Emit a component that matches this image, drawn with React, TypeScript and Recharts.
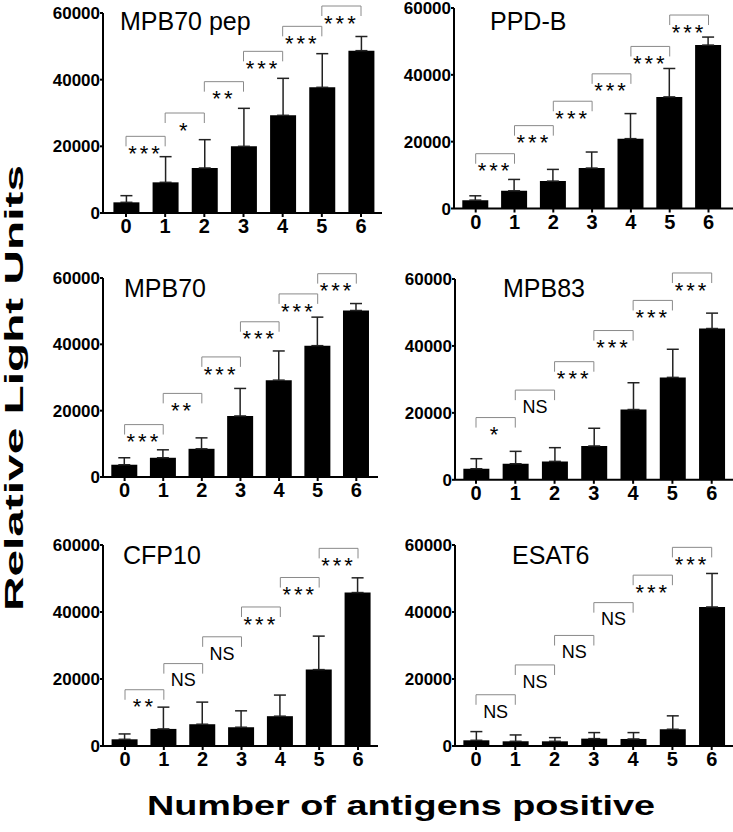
import React from "react";
import { BarChart, Bar, XAxis, YAxis, ErrorBar, ReferenceLine } from "recharts";

// number of antigens positive
const groups = ["0", "1", "2", "3", "4", "5", "6"];
const yTicks = [0, 20000, 40000, 60000];

// mean relative light units and SD (upper error) per group
const mpb70pepMean = [3200, 9200, 13500, 20000, 29300, 37700, 48700];
const mpb70pepSd = [2000, 7700, 8500, 11400, 11100, 10100, 4250];
const mpb70pepBracket = [23000, 30000, 39400, 48500, 56000, 62100];
const mpb70pepSig = ["***", "*", "**", "***", "***", "***"];

const ppdbMean = [2500, 5300, 8200, 12100, 20900, 33400, 48900];
const ppdbSd = [1300, 3400, 3500, 4800, 7500, 8500, 2400];
const ppdbBracket = [16400, 24800, 32100, 40300, 48500, 57900];
const ppdbSig = ["***", "***", "***", "***", "***", "***"];

const mpb70Mean = [3700, 5800, 8500, 18400, 29200, 39600, 50200];
const mpb70Sd = [2100, 2400, 3300, 8300, 8800, 8600, 2100];
const mpb70Bracket = [15800, 25200, 36200, 46800, 55200, 61300];
const mpb70Sig = ["***", "**", "***", "***", "***", "***"];

const mpb83Mean = [3300, 4800, 5500, 10100, 21000, 30600, 45200];
const mpb83Sd = [3000, 3700, 4100, 5300, 8000, 8400, 4600];
const mpb83Bracket = [18600, 26800, 35300, 44600, 53600, 61800];
const mpb83Sig = ["*", "NS", "***", "***", "***", "***"];

const cfp10Mean = [2000, 5100, 6500, 5600, 8900, 22800, 45800];
const cfp10Sd = [1600, 6500, 6600, 4900, 6300, 10000, 4400];
const cfp10Bracket = [16800, 24600, 32600, 41500, 50300, 59000];
const cfp10Sig = ["**", "NS", "NS", "***", "***", "***"];

const esat6Mean = [1700, 1400, 1400, 2200, 2100, 5000, 41500];
const esat6Sd = [2600, 1900, 1100, 1800, 1900, 4000, 10000];
const esat6Bracket = [15300, 24200, 33000, 42800, 51000, 59300];
const esat6Sig = ["NS", "NS", "NS", "NS", "***", "***"];

const FONT = '"Liberation Sans", Arial, sans-serif';
const LEG = 3000; // bracket leg length in data units
const BRACKET = "#8a8a8a";

type Geo = { axisX: number; top: number; base: number; c0: number; c6: number; right: number };
type PanelDef = {
  title: string;
  mean: number[];
  sd: number[];
  bracket: number[];
  sig: string[];
  geo: Geo;
  tx: number;
  ty: number;
};

const panels: PanelDef[] = [
  { title: "MPB70 pep", mean: mpb70pepMean, sd: mpb70pepSd, bracket: mpb70pepBracket, sig: mpb70pepSig,
    geo: { axisX: 103, top: 13, base: 213, c0: 126, c6: 361, right: 382 }, tx: 120, ty: 30 },
  { title: "PPD-B", mean: ppdbMean, sd: ppdbSd, bracket: ppdbBracket, sig: ppdbSig,
    geo: { axisX: 454, top: 7.5, base: 208, c0: 475.7, c6: 708.5, right: 733 }, tx: 490, ty: 30 },
  { title: "MPB70", mean: mpb70Mean, sd: mpb70Sd, bracket: mpb70Bracket, sig: mpb70Sig,
    geo: { axisX: 103, top: 278, base: 477, c0: 124.6, c6: 356.3, right: 378 }, tx: 124, ty: 297 },
  { title: "MPB83", mean: mpb83Mean, sd: mpb83Sd, bracket: mpb83Bracket, sig: mpb83Sig,
    geo: { axisX: 455, top: 278.5, base: 479.3, c0: 476, c6: 711.7, right: 733 }, tx: 503, ty: 297 },
  { title: "CFP10", mean: cfp10Mean, sd: cfp10Sd, bracket: cfp10Bracket, sig: cfp10Sig,
    geo: { axisX: 103, top: 545, base: 746, c0: 125, c6: 358, right: 378 }, tx: 123, ty: 564 },
  { title: "ESAT6", mean: esat6Mean, sd: esat6Sd, bracket: esat6Bracket, sig: esat6Sig,
    geo: { axisX: 455, top: 545, base: 746, c0: 476, c6: 711.7, right: 733 }, tx: 512, ty: 564 },
];

function sigLabel(s: string) {
  const stars = s.includes("*");
  return {
    value: s,
    position: "bottom" as const,
    offset: stars ? 9 : 10,
    fill: "#000",
    fontSize: stars ? 22 : 18,
    letterSpacing: stars ? 3 : 0,
  };
}

function Panel({ p }: { p: PanelDef }) {
  const { axisX, top, base, c0, c6, right } = p.geo;
  const band = (c6 - c0) / 6;
  const padL = c0 - axisX - band / 2;
  const padR = Math.max(0, right - (c6 + band / 2));
  const yW = 58;
  const mTop = 16;
  const xH = 30;
  const width = yW + (right - axisX);
  const height = mTop + (base - top) + xH;
  const data = groups.map((g, i) => ({ g, v: p.mean[i], e: [0, p.sd[i]] }));

  return (
    <div style={{ position: "absolute", left: axisX - yW, top: top - mTop }}>
      <BarChart
        width={width}
        height={height}
        data={data}
        margin={{ top: mTop, right: 0, bottom: 0, left: 0 }}
        barSize={26}
      >
        <XAxis
          dataKey="g"
          height={xH}
          interval={0}
          padding={{ left: padL, right: padR }}
          stroke="#000"
          axisLine={{ strokeWidth: 2 }}
          tickLine={{ strokeWidth: 2 }}
          tickSize={4}
          tickMargin={2}
          tick={{ fill: "#000", fontSize: 20, fontWeight: 700 }}
        />
        <YAxis
          width={yW}
          domain={[0, 60000]}
          ticks={yTicks}
          allowDataOverflow
          stroke="#000"
          axisLine={{ strokeWidth: 2 }}
          tickLine={{ strokeWidth: 2 }}
          tickSize={3}
          tickMargin={0}
          tick={{ fill: "#000", fontSize: 17, fontWeight: 700 }}
        />
        <Bar dataKey="v" fill="#000" isAnimationActive={false}>
          <ErrorBar dataKey="e" width={6} stroke="#222" strokeWidth={1.5} direction="y" />
        </Bar>
        {p.bracket.map((h, i) => [
          <ReferenceLine
            key={`h${i}`}
            segment={[{ x: groups[i], y: h }, { x: groups[i + 1], y: h }]}
            stroke={BRACKET}
            strokeWidth={1}
            ifOverflow="visible"
            label={sigLabel(p.sig[i])}
          />,
          <ReferenceLine
            key={`l${i}`}
            segment={[{ x: groups[i], y: h }, { x: groups[i], y: h - LEG }]}
            stroke={BRACKET}
            strokeWidth={1}
            ifOverflow="visible"
          />,
          <ReferenceLine
            key={`r${i}`}
            segment={[{ x: groups[i + 1], y: h }, { x: groups[i + 1], y: h - LEG }]}
            stroke={BRACKET}
            strokeWidth={1}
            ifOverflow="visible"
          />,
        ])}
      </BarChart>
    </div>
  );
}

export default function App() {
  return (
    <div
      style={{
        position: "absolute",
        left: 0,
        top: 0,
        width: 733,
        height: 832,
        overflow: "hidden",
        background: "#fff",
        fontFamily: FONT,
      }}
    >
      {panels.map((p) => (
        <Panel key={p.title} p={p} />
      ))}
      <svg
        width={733}
        height={832}
        style={{ position: "absolute", left: 0, top: 0, pointerEvents: "none", fontFamily: FONT }}
      >
        {panels.map((p) => (
          <text key={p.title} x={p.tx} y={p.ty} fontSize={25} fill="#000">
            {p.title}
          </text>
        ))}
        <text
          x={401}
          y={815}
          fontSize={28}
          fontWeight={700}
          textAnchor="middle"
          textLength={508}
          lengthAdjust="spacingAndGlyphs"
          fill="#000"
        >
          Number of antigens positive
        </text>
        <text
          transform="translate(23,388) rotate(-90)"
          fontSize={26}
          fontWeight={700}
          textAnchor="middle"
          textLength={446}
          lengthAdjust="spacingAndGlyphs"
          fill="#000"
        >
          Relative Light Units
        </text>
      </svg>
    </div>
  );
}
